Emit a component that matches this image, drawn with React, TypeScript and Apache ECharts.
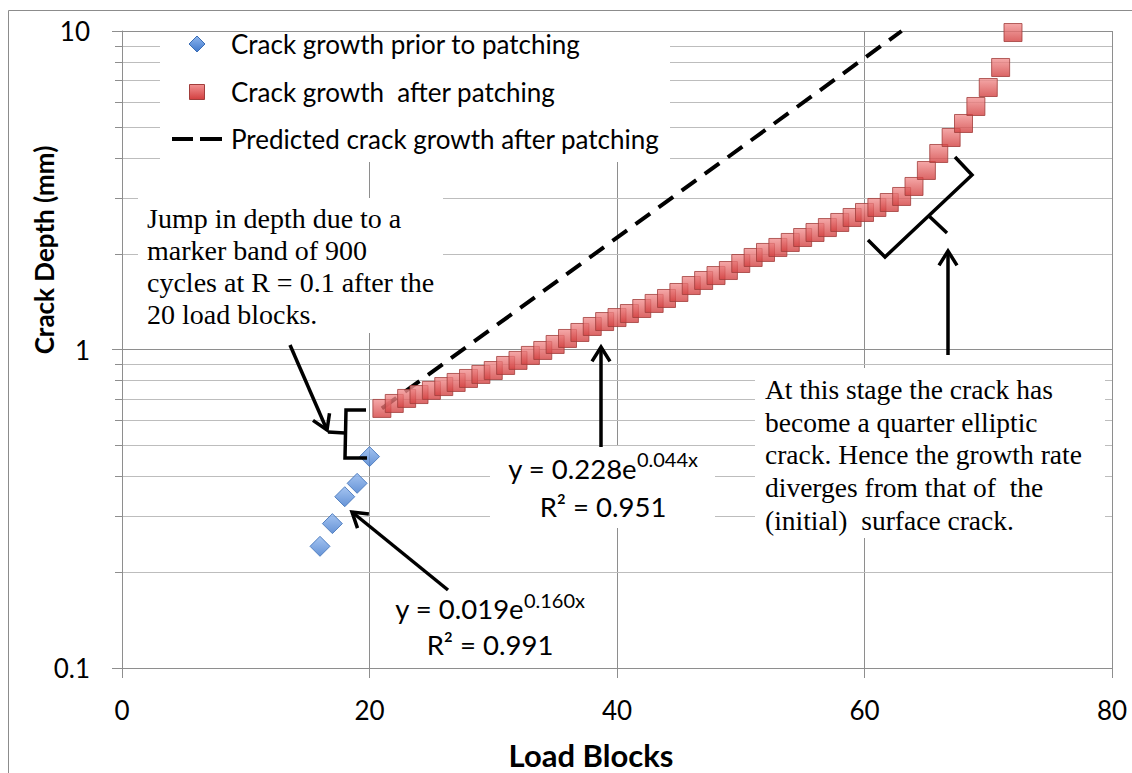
import React, { useEffect, useRef } from 'react';
import * as echarts from 'echarts';

const priorX = [16, 17, 18, 19, 20];
const priorDepth = [0.241, 0.284, 0.345, 0.38, 0.461];

const afterX = [21, 22, 23, 24, 25, 26, 27, 28, 29, 30, 31, 32, 33, 34, 35, 36, 37, 38, 39, 40, 41, 42, 43, 44, 45, 46, 47, 48, 49, 50, 51, 52, 53, 54, 55, 56, 57, 58, 59, 60, 61, 62, 63, 64, 65, 66, 67, 68, 69, 70, 71, 72];
const afterDepth = [0.653, 0.677, 0.702, 0.722, 0.744, 0.765, 0.788, 0.811, 0.835, 0.859, 0.891, 0.924, 0.958, 0.993, 1.037, 1.083, 1.131, 1.181, 1.224, 1.26, 1.297, 1.345, 1.395, 1.446, 1.51, 1.588, 1.647, 1.707, 1.77, 1.862, 1.945, 2.017, 2.091, 2.168, 2.247, 2.33, 2.415, 2.505, 2.597, 2.693, 2.792, 2.894, 3.023, 3.25, 3.648, 4.125, 4.63, 5.124, 5.794, 6.646, 7.681, 9.89];

const predictedX = [21, 63];
const predictedDepth = [0.653, 10];

const yMinorTicks = [0.2, 0.3, 0.4, 0.5, 0.6, 0.7, 0.8, 0.9, 2, 3, 4, 5, 6, 7, 8, 9];

const seriesNames = ['Crack growth prior to patching', 'Crack growth  after patching', 'Predicted crack growth after patching'];

const MAJOR = '#8e8e8e';
const MINOR = '#bdbdbd';

function arrow(x1: number, y1: number, x2: number, y2: number) {
  const dx = x2 - x1, dy = y2 - y1;
  const len = Math.sqrt(dx * dx + dy * dy);
  const ux = dx / len, uy = dy / len;
  const L = 17, a = (32 * Math.PI) / 180;
  const b1 = [x2 - L * (ux * Math.cos(a) - uy * Math.sin(a)), y2 - L * (uy * Math.cos(a) + ux * Math.sin(a))];
  const b2 = [x2 - L * (ux * Math.cos(-a) - uy * Math.sin(-a)), y2 - L * (uy * Math.cos(-a) + ux * Math.sin(-a))];
  const st = { stroke: '#000', lineWidth: 3.5, fill: null, lineJoin: 'miter' };
  return [
    { type: 'line', z: 60, shape: { x1, y1, x2, y2 }, style: st },
    { type: 'polyline', z: 60, shape: { points: [b1, [x2, y2], b2] }, style: st },
  ];
}

function poly(points: number[][]) {
  return { type: 'polyline', z: 60, shape: { points }, style: { stroke: '#000', lineWidth: 3.5, fill: null, lineJoin: 'miter' } };
}

function box(x: number, y: number, width: number, height: number) {
  return { type: 'rect', z: 50, shape: { x, y, width, height }, style: { fill: '#fff' }, silent: true };
}

export default function App() {
  const ref = useRef<HTMLDivElement>(null);
  useEffect(() => {
    if (!ref.current) return;
    const chart = echarts.init(ref.current, null, { renderer: 'svg' });
    const mkBlue = () => new echarts.graphic.LinearGradient(0, 0, 0, 1, [
      { offset: 0, color: '#8fb6ee' },
      { offset: 1, color: '#3f78cc' },
    ]);
    const mkRed = () => new echarts.graphic.LinearGradient(0, 0, 0, 1, [
      { offset: 0, color: '#f29292' },
      { offset: 1, color: '#d23f3f' },
    ]);
    const serif = 'Liberation Serif';
    const legendText = (t: string, y: number) => ({
      type: 'text', z: 60, x: 231, y,
      style: { text: t, fontFamily: 'Lato', fontSize: 26, fill: '#000', textAlign: 'left', textVerticalAlign: 'middle' },
    });
    const option: any = {
      animation: false,
      backgroundColor: '#fff',
      textStyle: { fontFamily: 'Lato' },
      grid: { left: 122, top: 31, right: 20, bottom: 105, containLabel: false },
      xAxis: {
        type: 'value',
        min: 0,
        max: 80,
        interval: 20,
        axisLine: { show: true, lineStyle: { color: MAJOR } },
        axisTick: { show: true, length: 10, lineStyle: { color: MAJOR } },
        axisLabel: { fontSize: 26, color: '#000', margin: 29, fontFamily: 'Lato' },
        splitLine: { show: true, lineStyle: { color: MAJOR } },
      },
      yAxis: {
        type: 'log',
        logBase: 10,
        min: 0.1,
        max: 10,
        axisLine: { show: true, lineStyle: { color: MAJOR } },
        axisTick: { show: true, length: 10, lineStyle: { color: MAJOR } },
        axisLabel: {
          fontSize: 26,
          color: '#000',
          margin: 32,
          fontFamily: 'Lato',
          formatter: (v: number) => String(Number(v.toPrecision(3))),
        },
        splitLine: { show: true, lineStyle: { color: MAJOR } },
      },
      series: [
        {
          type: 'custom',
          silent: true,
          z: 1,
          clip: false,
          data: yMinorTicks.map((v) => [0, v]),
          renderItem: (params: any, api: any) => {
            const cs = params.coordSys;
            const y = Math.round(api.coord([0, api.value(1)])[1]) + 0.5;
            return {
              type: 'group',
              children: [
                { type: 'line', shape: { x1: cs.x - 7, y1: y, x2: cs.x, y2: y }, style: { stroke: MAJOR, lineWidth: 1 } },
                { type: 'line', shape: { x1: cs.x + 1, y1: y, x2: cs.x + cs.width, y2: y }, style: { stroke: MINOR, lineWidth: 1 } },
              ],
            };
          },
        },
        {
          name: seriesNames[2],
          type: 'line',
          z: 3,
          symbol: 'none',
          showSymbol: false,
          data: predictedX.map((x, i) => [x, predictedDepth[i]]),
          lineStyle: { color: '#000', width: 4, type: [18, 10.5], cap: 'butt' },
          itemStyle: { color: '#000' },
        },
        {
          name: seriesNames[0],
          type: 'scatter',
          z: 4,
          symbol: 'diamond',
          symbolSize: 20,
          data: priorX.map((x, i) => [x, priorDepth[i]]),
          itemStyle: { color: mkBlue(), borderColor: '#3a6db5', borderWidth: 1 },
        },
        {
          name: seriesNames[1],
          type: 'scatter',
          z: 4,
          symbol: 'rect',
          symbolSize: 18,
          data: afterX.map((x, i) => [x, afterDepth[i]]),
          itemStyle: { color: mkRed(), borderColor: '#a13d3b', borderWidth: 1 },
        },
      ],
      graphic: [
        { type: 'rect', z: 70, silent: true, shape: { x: 8.5, y: 10.5, width: 1300, height: 900 }, style: { fill: null, stroke: '#8c8c8c', lineWidth: 1 } },
        box(160, 32, 510, 130),
        { type: 'polygon', z: 60, shape: { points: [[197, 36], [205, 44], [197, 52], [189, 44]] }, style: { fill: mkBlue(), stroke: '#3a6db5', lineWidth: 1 } },
        { type: 'rect', z: 60, shape: { x: 189.5, y: 84.5, width: 15, height: 15 }, style: { fill: mkRed(), stroke: '#a13d3b', lineWidth: 1 } },
        { type: 'line', z: 60, shape: { x1: 172, y1: 139, x2: 193, y2: 139 }, style: { stroke: '#000', lineWidth: 4 } },
        { type: 'line', z: 60, shape: { x1: 200, y1: 139, x2: 222, y2: 139 }, style: { stroke: '#000', lineWidth: 4 } },
        legendText(seriesNames[0], 44),
        legendText(seriesNames[1], 92),
        legendText(seriesNames[2], 139),
        box(138, 198, 305, 135),
        box(755, 368, 350, 170),
        box(490, 446, 225, 82),
        box(383, 583, 215, 80),
        {
          type: 'text', z: 60, x: 147, y: 202,
          style: {
            text: 'Jump in depth due to a\nmarker band of 900\ncycles at R = 0.1 after the\n20 load blocks.',
            fontFamily: serif, fontSize: 28, lineHeight: 32, fill: '#000', textAlign: 'left', textVerticalAlign: 'top',
          },
        },
        {
          type: 'text', z: 60, x: 765, y: 373,
          style: {
            text: 'At this stage the crack has\nbecome a quarter elliptic\ncrack. Hence the growth rate\ndiverges from that of  the\n(initial)  surface crack.',
            fontFamily: serif, fontSize: 27.5, lineHeight: 32.75, fill: '#000', textAlign: 'left', textVerticalAlign: 'top',
          },
        },
        {
          type: 'text', z: 60, x: 603, y: 449,
          style: {
            text: '{m|y = 0.228e}{s|0.044x}\n{m|R² = 0.951}',
            textAlign: 'center', textVerticalAlign: 'top', fill: '#000',
            rich: {
              m: { fontFamily: 'Lato', fontSize: 27.5, lineHeight: 38, color: '#000' },
              s: { fontFamily: 'Lato', fontSize: 20, lineHeight: 24, verticalAlign: 'top', color: '#000' },
            },
          },
        },
        {
          type: 'text', z: 60, x: 490, y: 590,
          style: {
            text: '{m|y = 0.019e}{s|0.160x}\n{m|R² = 0.991}',
            textAlign: 'center', textVerticalAlign: 'top', fill: '#000',
            rich: {
              m: { fontFamily: 'Lato', fontSize: 27.5, lineHeight: 36, color: '#000' },
              s: { fontFamily: 'Lato', fontSize: 20, lineHeight: 24, verticalAlign: 'top', color: '#000' },
            },
          },
        },
        {
          type: 'text', z: 60, x: 44, y: 250, rotation: Math.PI / 2,
          style: { text: 'Crack Depth (mm)', fontFamily: 'Lato', fontWeight: 'bold', fontSize: 26, fill: '#000', textAlign: 'center', textVerticalAlign: 'middle' },
        },
        {
          type: 'text', z: 60, x: 591, y: 755,
          style: { text: 'Load Blocks', fontFamily: 'Lato', fontWeight: 'bold', fontSize: 31, fill: '#000', textAlign: 'center', textVerticalAlign: 'middle' },
        },
        ...arrow(290, 345, 327, 430),
        ...arrow(448, 590, 352, 512),
        ...arrow(601, 447, 601, 347),
        ...arrow(948, 355, 948, 251),
        poly([[366, 410], [346, 410], [345, 458], [367, 458]]),
        poly([[345, 433], [328, 432]]),
        poly([[868, 240], [885, 257], [972, 175], [955, 157]]),
        poly([[929, 216], [947, 233]]),
      ],
    };
    chart.setOption(option);
    return () => chart.dispose();
  }, []);
  return <div ref={ref} style={{ position: 'fixed', left: 0, top: 0, width: 1132, height: 773 }} />;
}
